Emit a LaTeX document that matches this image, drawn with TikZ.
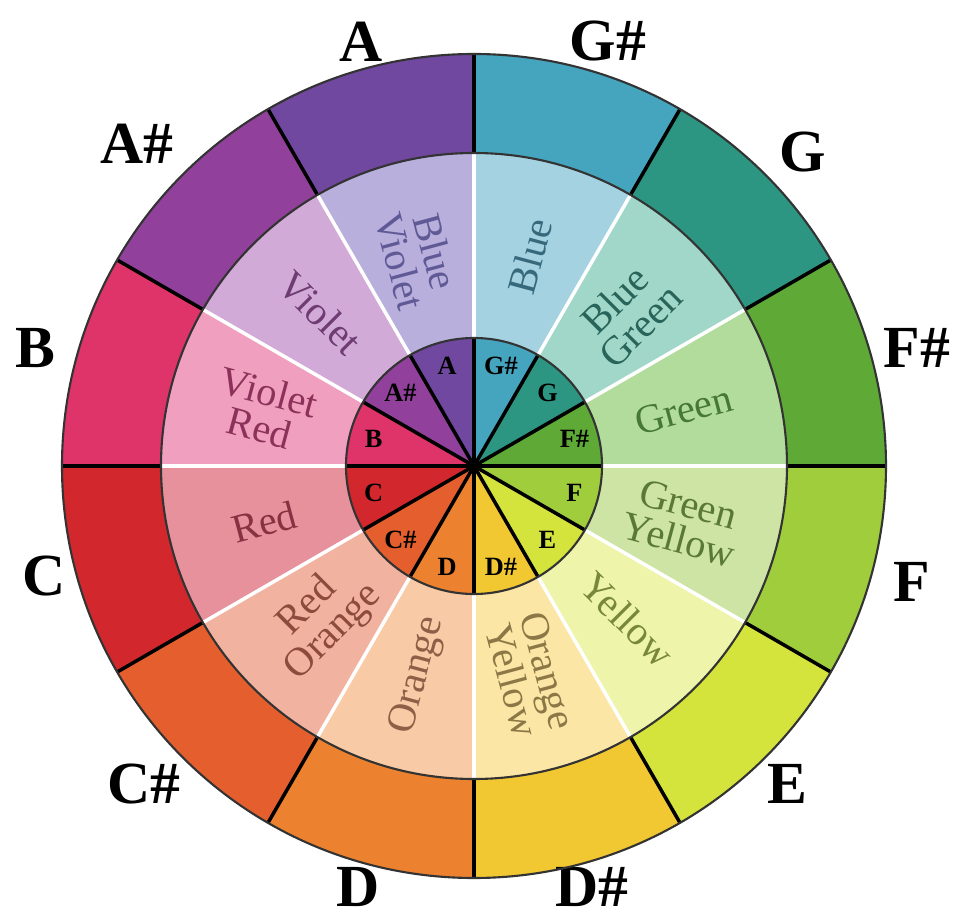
\documentclass[tikz,border=0pt]{standalone}
\usepackage{fontspec}
\setmainfont{Liberation Serif}
\usetikzlibrary{calc}
% outer ring / inner disc
\definecolor{outA}{HTML}{7048A0}
\definecolor{outAs}{HTML}{91419B}
\definecolor{outB}{HTML}{DE3469}
\definecolor{outC}{HTML}{D2282D}
\definecolor{outCs}{HTML}{E45F2D}
\definecolor{outD}{HTML}{EC8230}
\definecolor{outDs}{HTML}{F2C832}
\definecolor{outE}{HTML}{D4E43C}
\definecolor{outF}{HTML}{A0CD3C}
\definecolor{outFs}{HTML}{5FAA37}
\definecolor{outG}{HTML}{2D9682}
\definecolor{outGs}{HTML}{46A5BE}
% middle ring
\definecolor{paleA}{HTML}{B9AFDC}
\definecolor{paleAs}{HTML}{D2AAD7}
\definecolor{paleB}{HTML}{F0A0BE}
\definecolor{paleC}{HTML}{E6919B}
\definecolor{paleCs}{HTML}{F2B2A0}
\definecolor{paleD}{HTML}{F8CAA5}
\definecolor{paleDs}{HTML}{FCE6A5}
\definecolor{paleE}{HTML}{EEF5AA}
\definecolor{paleF}{HTML}{CDE4A5}
\definecolor{paleFs}{HTML}{B2DC9B}
\definecolor{paleG}{HTML}{A0D7C8}
\definecolor{paleGs}{HTML}{A5D2E1}
% colour names
\definecolor{txtA}{RGB}{95,90,150}
\definecolor{txtAs}{RGB}{110,60,115}
\definecolor{txtB}{RGB}{140,50,90}
\definecolor{txtC}{RGB}{135,50,65}
\definecolor{txtCs}{RGB}{140,75,60}
\definecolor{txtD}{RGB}{140,95,70}
\definecolor{txtDs}{RGB}{140,120,70}
\definecolor{txtE}{RGB}{120,135,60}
\definecolor{txtF}{RGB}{90,120,55}
\definecolor{txtFs}{RGB}{70,120,55}
\definecolor{txtG}{RGB}{40,100,90}
\definecolor{txtGs}{RGB}{55,105,125}
\tikzset{
  note/.style={font=\fontsize{17}{17}\selectfont\bfseries, inner sep=0pt},
  pitch/.style={font=\fontsize{7.5}{8}\selectfont\bfseries, inner sep=0pt},
  hue/.style={font=\fontsize{11.5}{10.5}\selectfont, align=center, inner sep=0pt},
  spoke/.style={black, line width=1pt},
  gap/.style={white, line width=1pt},
  rim/.style={draw=black!80, line width=0.6pt},
}

\begin{document}
\begin{tikzpicture}[
  every node/.style={text=black},
]
  \useasboundingbox (-4.74,-4.52) rectangle (4.90,4.66);
  % sectors, counter-clockwise from the top
  \foreach \a/\id/\nm/\txt/\ox/\oy in {
      90/A/A/{Blue\\Violet}/-1.13/4.24,
      120/As/A\#/Violet/-3.37/3.22,
      150/B/B/{Violet\\Red}/-4.39/1.18,
      180/C/C/Red/-4.30/-1.10,
      210/Cs/C\#/{Red\\Orange}/-3.30/-3.18,
      240/D/D/Orange/-1.16/-4.21,
      270/Ds/D\#/{Orange\\Yellow}/1.18/-4.21,
      300/E/E/Yellow/3.13/-3.18,
      330/F/F/{Green\\Yellow}/4.38/-1.16,
      0/Fs/F\#/Green/4.43/1.18,
      30/G/G/{Blue\\Green}/3.29/3.14,
      60/Gs/G\#/Blue/1.34/4.25}{
    \pgfmathsetmacro\m{\a+15}
    \pgfmathsetmacro\rot{(\m>90 && \m<270) ? \m-180 : \m}
    \fill[out\id] (\a:3.13) arc[start angle=\a, end angle=\a+30, radius=3.13]
      -- (\a+30:4.12) arc[start angle=\a+30, end angle=\a, radius=4.12] -- cycle;
    \fill[pale\id] (\a:1.28) arc[start angle=\a, end angle=\a+30, radius=1.28]
      -- (\a+30:3.13) arc[start angle=\a+30, end angle=\a, radius=3.13] -- cycle;
    \fill[out\id] (0,0) -- (\a:1.28) arc[start angle=\a, end angle=\a+30, radius=1.28] -- cycle;
    \node[hue, text=txt\id, rotate=\rot] (m\id) at (\m:2.17) {\txt};
    \node[pitch] (i\id) at (\m:1.04) {\nm};
    \node[note] (o\id) at (\ox,\oy) {\nm};
  }
  % dividers
  \foreach \a in {0,30,...,330}{
    \draw[gap] (\a:1.28) -- (\a:3.13);
    \draw[spoke] (\a:3.13) -- (\a:4.12);
    \draw[spoke] (0,0) -- (\a:1.28);
  }
  \draw[rim] (0,0) circle (4.12);
  \draw[rim] (0,0) circle (3.13);
  \draw[rim] (0,0) circle (1.28);
  \fill[black] (0,0) circle (0.05);
\end{tikzpicture}
\end{document}
